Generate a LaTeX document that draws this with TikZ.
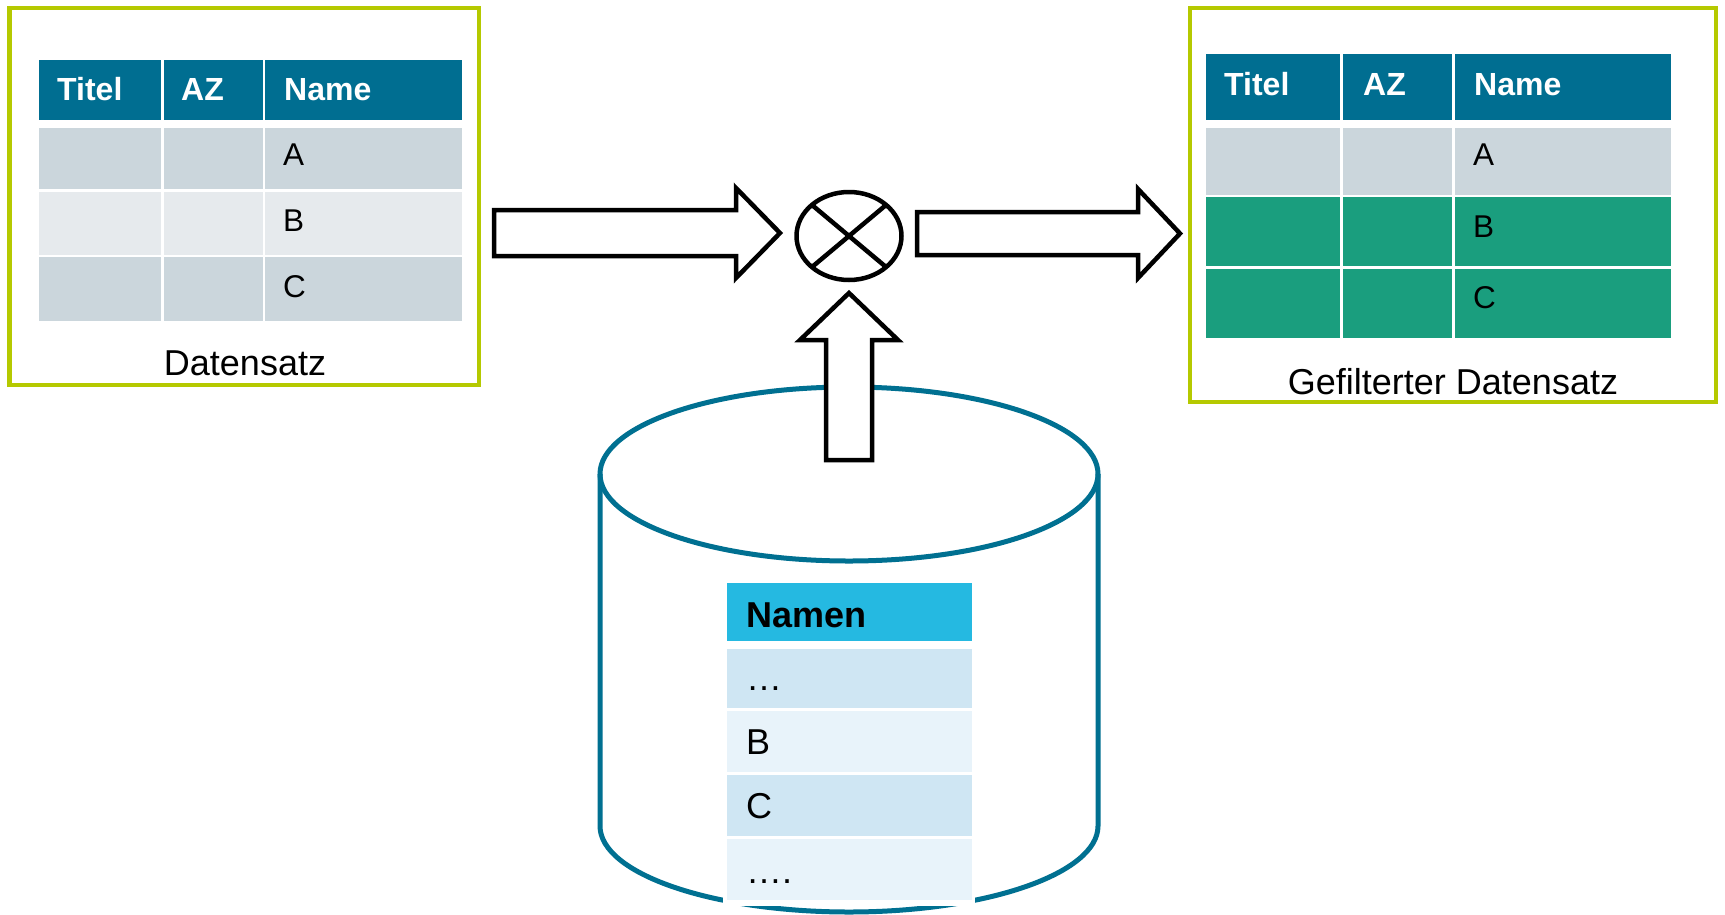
\documentclass[tikz,border=0pt]{standalone}
\usepackage{fontspec}
\setmainfont{Liberation Sans}
\usetikzlibrary{shapes.geometric,calc}
\definecolor{framegreen}{RGB}{181,201,0}
\definecolor{headblue}{RGB}{0,110,145}
\definecolor{rowgrey}{RGB}{203,214,220}
\definecolor{rowlight}{RGB}{230,234,237}
\definecolor{rowgreen}{RGB}{26,158,126}
\definecolor{headcyan}{RGB}{37,185,225}
\definecolor{rowsky}{RGB}{207,230,243}
\definecolor{rowpale}{RGB}{232,243,250}
\definecolor{cylblue}{RGB}{0,112,145}

\begin{document}
\begin{tikzpicture}[x=1pt,y=-1pt,
  frame/.style={draw=framegreen,line width=4.3pt},
  blockarrow/.style={draw=black,line width=4.5pt,fill=white,line join=miter},
  headtxt/.style={anchor=base west,inner sep=0pt,text=white,font=\bfseries\fontsize{32}{38}\selectfont},
  celltxt/.style={anchor=base west,inner sep=0pt,font=\fontsize{31.5}{37}\selectfont},
  captxt/.style={anchor=base,inner sep=0pt,font=\fontsize{36}{42}\selectfont},
  dbhead/.style={anchor=base west,inner sep=0pt,font=\bfseries\fontsize{36}{42}\selectfont},
  dbtxt/.style={anchor=base west,inner sep=0pt,font=\fontsize{36}{42}\selectfont}]

\useasboundingbox (0,0) rectangle (1725,914);
\fill[white] (0,0) rectangle (1725,914);

% ---- input data set ----
\draw[frame] (9.5,8) rectangle (479,385);
\fill[headblue] (39,60) rectangle (161,120);
\fill[headblue] (164,60) rectangle (263,120);
\fill[headblue] (265,60) rectangle (462,120);
\foreach \ya/\yb/\c in {128/189/rowgrey,192/255/rowlight,257/321/rowgrey}{
  \fill[\c] (39,\ya) rectangle (161,\yb);
  \fill[\c] (164,\ya) rectangle (263,\yb);
  \fill[\c] (265,\ya) rectangle (462,\yb);
}
\node[headtxt] (lt) at (57,100) {Titel};
\node[headtxt] (laz) at (181,100) {AZ};
\node[headtxt] (lname) at (284,100) {Name};
\node[celltxt] (la) at (283,165) {A};
\node[celltxt] (lb) at (283,231) {B};
\node[celltxt] (lc) at (283,297) {C};
\node[captxt] (lcap) at (245,375) {Datensatz};

% ---- filtered data set ----
\draw[frame] (1190,8) rectangle (1716,402);
\fill[headblue] (1206,54) rectangle (1340,120);
\fill[headblue] (1343,54) rectangle (1452,120);
\fill[headblue] (1455,54) rectangle (1671,120);
\foreach \ya/\yb/\c in {128/195/rowgrey,197/266/rowgreen,269/338/rowgreen}{
  \fill[\c] (1206,\ya) rectangle (1340,\yb);
  \fill[\c] (1343,\ya) rectangle (1452,\yb);
  \fill[\c] (1455,\ya) rectangle (1671,\yb);
}
\node[headtxt] (rt) at (1224,95) {Titel};
\node[headtxt] (raz) at (1363,95) {AZ};
\node[headtxt] (rname) at (1474,95) {Name};
\node[celltxt] (ra) at (1473,165) {A};
\node[celltxt] (rb) at (1473,237) {B};
\node[celltxt] (rc) at (1473,308) {C};
\node[captxt] (rcap) at (1453,394) {Gefilterter Datensatz};

% ---- database cylinder ----
\draw[cylblue,line width=5pt] (600,474) -- (600,826)
  .. controls (600,873.5) and (711.5,912) .. (849,912)
  .. controls (986.5,912) and (1098,873.5) .. (1098,826) -- (1098,474);
\node[ellipse,draw=cylblue,line width=5pt,inner sep=0pt,
      minimum width=498pt,minimum height=174pt] (cyl) at (849,474) {};

% ---- combination operator ----
\node[ellipse,draw=black,line width=4.5pt,inner sep=0pt,
      minimum width=105pt,minimum height=88pt] (op) at (849,236) {};
\draw[black,line width=4.5pt] ($(op.center)+(-37,-31)$) -- ($(op.center)+(37,31)$);
\draw[black,line width=4.5pt] ($(op.center)+(-37,31)$) -- ($(op.center)+(37,-31)$);

% ---- block arrows ----
\draw[blockarrow] (494,210) -- (736,210) -- (736,188) -- (780,233)
  -- (736,278) -- (736,256) -- (494,256) -- cycle;
\draw[blockarrow] (917,212) -- (1138,212) -- (1138,189) -- (1180,233.5)
  -- (1138,278) -- (1138,255) -- (917,255) -- cycle;
\draw[blockarrow] (826,460) -- (826,340) -- (800,340) -- (849,293)
  -- (898,340) -- (872,340) -- (872,460) -- cycle;

% ---- name list inside the database ----
\fill[white] (723,578) rectangle (975,906);
\fill[headcyan] (727,583) rectangle (972,641);
\foreach \ya/\yb/\c in {649/708/rowsky,711/772/rowpale,775/836/rowsky,839/900/rowpale}{
  \fill[\c] (727,\ya) rectangle (972,\yb);
}
\node[dbhead] (dn) at (746,627) {Namen};
\node[dbtxt] (d1) at (746,690) {…};
\node[dbtxt] (d2) at (746,754) {B};
\node[dbtxt] (d3) at (746,818) {C};
\node[dbtxt] (d4) at (746,883) {….};
\end{tikzpicture}
\end{document}
